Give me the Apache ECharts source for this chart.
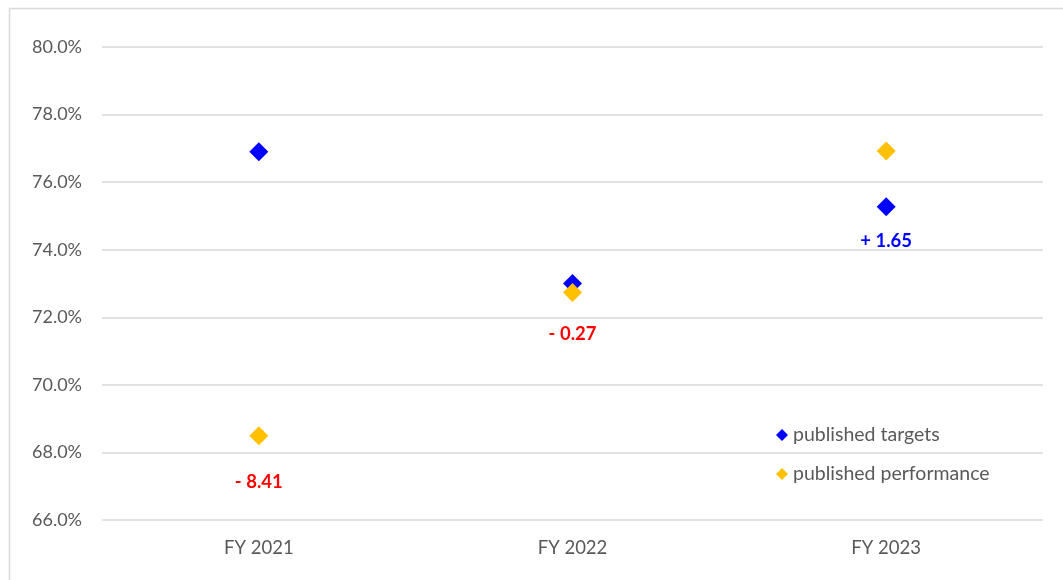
<!DOCTYPE html>
<html>
<head>
<meta charset="utf-8">
<script src="https://cdn.jsdelivr.net/npm/echarts@6/dist/echarts.min.js"></script>
<style>html,body{margin:0;padding:0;background:#fff}#c{width:1063px;height:580px}</style>
</head>
<body>
<div id="c"></div>
<script>
var categories = ['FY 2021', 'FY 2022', 'FY 2023'];
var targets = [76.90, 73.00, 75.27];
var performance = [68.49, 72.73, 76.92];
var diffLabels = ['- 8.41', '- 0.27', '+ 1.65'];
var yTicks = [66, 68, 70, 72, 74, 76, 78, 80];

var font = 'Lato, "Open Sans", sans-serif';
var chart = echarts.init(document.getElementById('c'));

function labelFor(i, color, dist) {
  return {show: true, position: 'bottom', distance: dist, formatter: diffLabels[i],
    color: color, fontWeight: 'bold', fontSize: 18.5, fontFamily: font};
}

var targetData = targets.map(function (v, i) {
  var d = {value: v};
  if (i === 2) d.label = labelFor(i, '#0000FF', 15);
  return d;
});
var perfData = performance.map(function (v, i) {
  var d = {value: v};
  if (i === 0) d.label = labelFor(i, '#FF0000', 27);
  if (i === 1) d.label = labelFor(i, '#FF0000', 22);
  return d;
});

chart.setOption({
  animation: false,
  textStyle: {fontFamily: font},
  graphic: [{type: 'rect', left: 7, top: 6, shape: {width: 1080, height: 600},
    style: {fill: 'none', stroke: '#d9d9d9', lineWidth: 1.5}, silent: true, z: -1}],
  grid: {left: 102, right: 20, top: 47, bottom: 60},
  legend: {
    orient: 'vertical', left: 771, top: 420, itemGap: 19,
    itemWidth: 12, itemHeight: 12,
    textStyle: {color: '#595959', fontSize: 19.5, fontFamily: font},
    data: [{name: 'published targets', icon: 'diamond'}, {name: 'published performance', icon: 'diamond'}]
  },
  xAxis: {
    type: 'category', data: categories, boundaryGap: true,
    axisLine: {show: false}, axisTick: {show: false},
    axisLabel: {color: '#595959', fontSize: 18.5, margin: 19, fontFamily: font}
  },
  yAxis: {
    type: 'value', min: yTicks[0], max: yTicks[yTicks.length - 1], interval: 2,
    axisLine: {show: false}, axisTick: {show: false},
    splitLine: {lineStyle: {color: '#d9d9d9', width: 1.5}},
    axisLabel: {color: '#595959', fontSize: 18, margin: 20, fontFamily: font,
      formatter: function (v) { return v.toFixed(1) + '%'; }}
  },
  series: [
    {name: 'published targets', type: 'scatter', symbol: 'diamond', symbolSize: 19,
      itemStyle: {color: '#0000FF', opacity: 1}, data: targetData, z: 2},
    {name: 'published performance', type: 'scatter', symbol: 'diamond', symbolSize: 19,
      itemStyle: {color: '#FFC000', opacity: 1}, data: perfData, z: 3}
  ]
});
</script>
</body>
</html>
